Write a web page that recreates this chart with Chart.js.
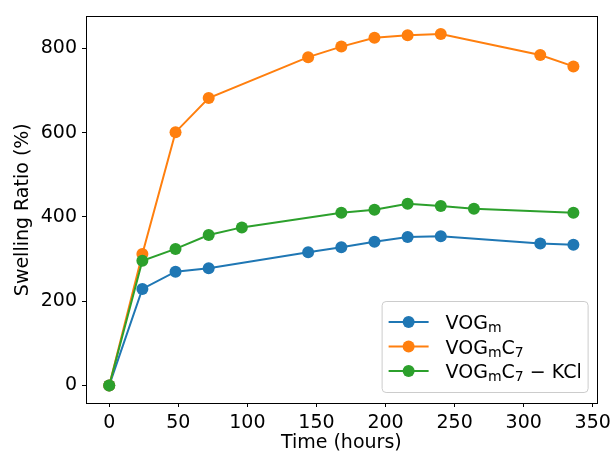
<!DOCTYPE html>
<html><head><meta charset="utf-8">
<script src="https://cdn.jsdelivr.net/npm/chart.js@4/dist/chart.umd.min.js"></script>
<style>html,body{margin:0;padding:0;background:#fff;}#wrap{width:616px;height:453px;}</style>
</head><body><div id="wrap"><canvas id="c" width="616" height="453"></canvas></div>
<script>
// ---- data ----
const timeVOGm = [0, 24, 48, 72, 144, 168, 192, 216, 240, 312, 336];
const valVOGm = [0, 229, 270, 278, 316, 328, 341, 352, 354, 337, 334];
const timeVOGmC7 = [0, 24, 48, 72, 144, 168, 192, 216, 240, 312, 336];
const valVOGmC7 = [0, 312, 601, 682, 779, 804, 825, 831, 834, 784, 757];
const timeKCl = [0, 24, 48, 72, 96, 168, 192, 216, 240, 264, 336];
const valKCl = [0, 296, 324, 357, 375, 410, 417, 431, 426, 419, 410];
const xTickValues = [0, 50, 100, 150, 200, 250, 300, 350];
const yTickValues = [0, 200, 400, 600, 800];
const seriesNames = ['VOGₘ', 'VOGₘC₇', 'VOGₘC₇ − KCl'];
// legend label pieces: [text, isSubscript]
const legendPieces = [
  [['VOG', 0], ['m', 1]],
  [['VOG', 0], ['m', 1], ['C', 0], ['7', 1]],
  [['VOG', 0], ['m', 1], ['C', 0], ['7', 1], [' \u2212 KCl', 0]]
];
const colors = ['#1f77b4', '#ff7f0e', '#2ca02c'];

const FONT = 'DejaVu Sans';
const FS = 19;

function pts(t, v) { return t.map((x, i) => ({x: x, y: v[i]})); }
const allT = timeVOGm.concat(timeVOGmC7, timeKCl);
const allV = valVOGm.concat(valVOGmC7, valKCl);
const tMin = Math.min(...allT), tMax = Math.max(...allT);
const vMin = Math.min(...allV), vMax = Math.max(...allV);
const xPad = 0.05 * (tMax - tMin), yPad = 0.05 * (vMax - vMin);

const series = [[timeVOGm, valVOGm], [timeVOGmC7, valVOGmC7], [timeKCl, valKCl]];
const datasets = series.map((s, i) => ({
  label: seriesNames[i],
  data: pts(s[0], s[1]),
  borderColor: colors[i],
  backgroundColor: colors[i],
  pointBackgroundColor: colors[i],
  pointBorderColor: colors[i],
  pointRadius: 6,
  pointBorderWidth: 0,
  borderWidth: 2,
  tension: 0,
  fill: false,
  order: 2 - i
}));

const framePlugin = {
  id: 'frame',
  afterDraw(chart) {
    const ctx = chart.ctx, a = chart.chartArea;
    ctx.save();
    ctx.strokeStyle = '#000';
    ctx.lineWidth = 1;
    ctx.strokeRect(Math.round(a.left) + 0.5, Math.round(a.top) + 0.5, Math.round(a.right - a.left), Math.round(a.bottom - a.top));
    // legend
    const bx = a.right - 215, by = a.bottom - 102, bw = 206, bh = 91;
    ctx.beginPath();
    if (ctx.roundRect) ctx.roundRect(bx + 0.5, by + 0.5, bw, bh, 4); else ctx.rect(bx + 0.5, by + 0.5, bw, bh);
    ctx.fillStyle = 'rgba(255,255,255,0.8)';
    ctx.fill();
    ctx.strokeStyle = '#cccccc';
    ctx.stroke();
    legendPieces.forEach((pieces, i) => {
      const cy = by + 21 + i * 24.5;
      ctx.strokeStyle = colors[i];
      ctx.lineWidth = 2;
      ctx.beginPath();
      ctx.moveTo(bx + 7, cy); ctx.lineTo(bx + 47, cy); ctx.stroke();
      ctx.fillStyle = colors[i];
      ctx.beginPath(); ctx.arc(bx + 27, cy, 6, 0, Math.PI * 2); ctx.fill();
      let x = bx + 64;
      const base = cy + 7;
      ctx.fillStyle = '#000';
      ctx.textBaseline = 'alphabetic';
      ctx.textAlign = 'left';
      pieces.forEach(p => {
        if (p[1]) {
          ctx.font = '14px "' + FONT + '"';
          ctx.fillText(p[0], x, base + 3);
        } else {
          ctx.font = FS + 'px "' + FONT + '"';
          ctx.fillText(p[0], x, base);
        }
        x += ctx.measureText(p[0]).width;
      });
    });
    ctx.restore();
  }
};

const tickFont = {family: FONT, size: FS};
new Chart(document.getElementById('c'), {
  type: 'line',
  data: {datasets: datasets},
  options: {
    responsive: false,
    animation: false,
    devicePixelRatio: 1,
    layout: {padding: {left: 0, top: 16, right: 16, bottom: 0}},
    plugins: {legend: {display: false}, tooltip: {enabled: false}},
    scales: {
      x: {
        type: 'linear',
        min: tMin - xPad, max: tMax + xPad,
        afterBuildTicks: s => { s.ticks = xTickValues.map(v => ({value: v})); },
        afterFit: s => { s.height = 50; },
        grid: {display: true, drawOnChartArea: false, drawTicks: true, tickLength: 4, color: '#000', lineWidth: 1},
        border: {display: true, color: '#000', width: 1},
        ticks: {font: tickFont, color: '#000', padding: 5, maxRotation: 0, autoSkip: false},
        title: {display: true, text: 'Time (hours)', font: {family: FONT, size: FS, lineHeight: 1.0}, color: '#000', padding: 0}
      },
      y: {
        type: 'linear',
        min: vMin - yPad, max: vMax + yPad,
        afterBuildTicks: s => { s.ticks = yTickValues.map(v => ({value: v})); },
        afterFit: s => { s.width = 86; },
        grid: {display: true, drawOnChartArea: false, drawTicks: true, tickLength: 4, color: '#000', lineWidth: 1},
        border: {display: true, color: '#000', width: 1},
        ticks: {font: tickFont, color: '#000', padding: 5, autoSkip: false},
        title: {display: true, text: 'Swelling Ratio (%)', font: tickFont, color: '#000', padding: {top: 12, bottom: 0}}
      }
    }
  },
  plugins: [framePlugin]
});
</script></body></html>
